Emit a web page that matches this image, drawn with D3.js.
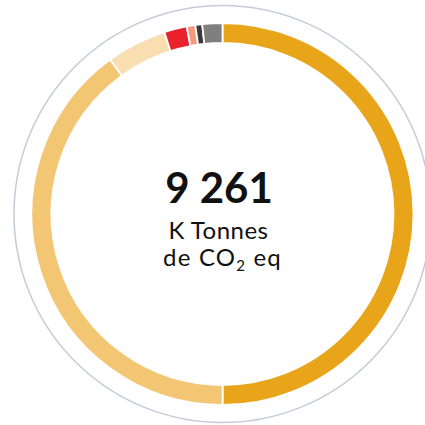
<!DOCTYPE html>
<html>
<head>
<meta charset="utf-8">
<script src="https://cdn.jsdelivr.net/npm/d3@7"></script>
<style>
  html, body { margin: 0; padding: 0; background: #fff; }
  svg { display: block; }
</style>
</head>
<body>
<svg id="chart" width="425" height="425"></svg>
<script>
// Data
const categories = ["Cat A", "Cat B", "Cat C", "Cat D", "Cat E", "Cat F", "Cat G"];
const values = [4630, 3704, 471, 178, 67, 54, 157];
const colors = ["#E9A519", "#F3C673", "#F8DEB0", "#E8212B", "#F49A7C", "#3A3A3A", "#7F7F7F"];
const totalLabel = "9 261";
const unitLine1 = "K Tonnes";

const W = 425, H = 425;
const cx = 222.5, cy = 214;
const rOuter = 191, rInner = 171, rRing = 208.5;

const svg = d3.select("#chart");
const g = svg.append("g").attr("transform", `translate(${cx},${cy})`);

// outer thin ring
g.append("circle")
  .attr("r", rRing)
  .attr("fill", "none")
  .attr("stroke", "#C7CADA")
  .attr("stroke-width", 1.5);

const data = categories.map((c, i) => ({ name: c, value: values[i], color: colors[i] }));

const pie = d3.pie().value(d => d.value).sort(null);
const arc = d3.arc().innerRadius(rInner).outerRadius(rOuter);

g.selectAll("path.slice")
  .data(pie(data))
  .join("path")
  .attr("class", "slice")
  .attr("d", arc)
  .attr("fill", d => d.data.color)
  .attr("stroke", "#fff")
  .attr("stroke-width", 1.8);

// center text
const font = "Lato, 'DejaVu Sans', sans-serif";
svg.append("text")
  .attr("x", 219).attr("y", 203)
  .attr("text-anchor", "middle")
  .attr("font-family", font)
  .attr("font-weight", "bold")
  .attr("font-size", 42)
  .attr("fill", "#111")
  .text(totalLabel);

svg.append("text")
  .attr("x", 218.5).attr("y", 239)
  .attr("text-anchor", "middle")
  .attr("font-family", font)
  .attr("font-size", 24)
  .attr("letter-spacing", 0.5)
  .attr("fill", "#111")
  .text(unitLine1);

const t3 = svg.append("text")
  .attr("x", 222.5).attr("y", 266)
  .attr("text-anchor", "middle")
  .attr("font-family", font)
  .attr("font-size", 24)
  .attr("letter-spacing", 1.2)
  .attr("fill", "#111");
t3.append("tspan").text("de CO");
t3.append("tspan").attr("font-size", 15).attr("dy", 5).text("2");
t3.append("tspan").attr("dy", -5).text(" eq");
</script>
</body>
</html>
